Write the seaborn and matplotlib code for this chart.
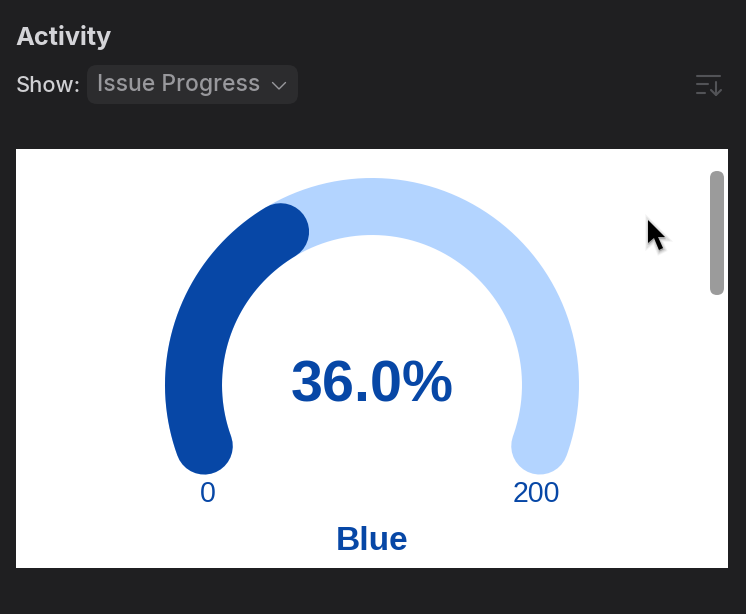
from __future__ import annotations

import matplotlib

matplotlib.use("Agg")
import matplotlib.pyplot as plt
import numpy as np
import seaborn as sns
from matplotlib.patches import FancyBboxPatch, Polygon, Rectangle

GAUGE_MIN = 0
GAUGE_MAX = 200
GAUGE_VALUE = 72
GAUGE_LABEL = "Blue"
PANEL_TITLE = "Activity"
SHOW_LABEL = "Show:"
DROPDOWN_LABEL = "Issue Progress"

DARK_BLUE = "#0747a6"
LIGHT_BLUE = "#b3d4ff"
BACKGROUND = "#1f1f21"

# gauge geometry, in screen pixels
CENTER = (372, 385)
RADIUS = 178.5
STROKE_PX = 57
START_DEG = 200
SWEEP_DEG = 220


def px_to_pt(px: float) -> float:
    return px * 72 / 100


def arc(value_from: float, value_to: float) -> tuple[np.ndarray, np.ndarray]:
    span = GAUGE_MAX - GAUGE_MIN
    a0 = START_DEG - SWEEP_DEG * (value_from - GAUGE_MIN) / span
    a1 = START_DEG - SWEEP_DEG * (value_to - GAUGE_MIN) / span
    theta = np.radians(np.linspace(a0, a1, 200))
    return CENTER[0] + RADIUS * np.cos(theta), CENTER[1] - RADIUS * np.sin(theta)


def draw_arc(ax, value_from: float, value_to: float, color: str) -> None:
    x, y = arc(value_from, value_to)
    sns.lineplot(
        x=x,
        y=y,
        sort=False,
        estimator=None,
        color=color,
        linewidth=px_to_pt(STROKE_PX),
        solid_capstyle="round",
        ax=ax,
    )


def rounded(ax, x: float, y: float, w: float, h: float, r: float, color: str) -> None:
    ax.add_patch(
        FancyBboxPatch(
            (x + r, y + r),
            w - 2 * r,
            h - 2 * r,
            boxstyle=f"round,pad={r},rounding_size={r}",
            facecolor=color,
            edgecolor="none",
        )
    )


def draw_chrome(ax) -> None:
    ax.text(15, 38, PANEL_TITLE, color="#d4d4d8", fontsize=px_to_pt(25.3), fontweight="bold",
            family="Inter", va="center", ha="left")
    ax.text(16, 86, SHOW_LABEL, color="#d0d0d3", fontsize=px_to_pt(21.8), fontweight="medium",
            family="Inter", va="center", ha="left")
    rounded(ax, 87, 65, 211, 39, 10, "#2c2c2e")
    ax.text(97, 85.5, DROPDOWN_LABEL, color="#98989c", fontsize=px_to_pt(22.9), fontweight="medium",
            family="Inter", va="center", ha="left")
    ax.plot([272.5, 279, 285.5], [82.5, 89, 82.5], color="#98989c", lw=1.0)

    # sort icon
    icon = "#525357"
    ax.plot([697, 720], [76, 76], color=icon, lw=1.5)
    ax.plot([697, 708], [84, 84], color=icon, lw=1.5)
    ax.plot([697, 705], [93, 93], color=icon, lw=1.5)
    ax.plot([716, 716], [82, 95], color=icon, lw=1.5)
    ax.plot([711, 716, 721], [90, 95, 90], color=icon, lw=1.5)


def draw_overlay(ax) -> None:
    rounded(ax, 710, 171, 14, 124, 7, "#9b9b9b")
    cursor = np.array([(648, 220), (648, 243), (654, 238), (659, 250), (663, 248), (658, 237), (665, 237)])
    # soft shadow built from a few wide, faint outlines
    for lw, alpha in [(4.5, 0.05), (3, 0.07), (1.5, 0.09)]:
        ax.add_patch(Polygon(cursor + [0.5, 1.5], closed=True, facecolor="#000000", edgecolor="#000000",
                             alpha=alpha, lw=lw, zorder=5))
    ax.add_patch(Polygon(cursor, closed=True, facecolor="#000000", edgecolor="none", zorder=6))


def main() -> None:
    sns.set_theme(style="white")
    fig = plt.figure(figsize=(7.46, 6.14), dpi=100, facecolor=BACKGROUND)
    ax = fig.add_axes([0, 0, 1, 1])
    ax.set_xlim(0, 746)
    ax.set_ylim(614, 0)
    ax.set_facecolor(BACKGROUND)
    ax.axis("off")

    ax.add_patch(Rectangle((16, 149), 712, 419, facecolor="white", edgecolor="none", zorder=0))

    draw_arc(ax, GAUGE_MIN, GAUGE_MAX, LIGHT_BLUE)
    draw_arc(ax, GAUGE_MIN, GAUGE_VALUE, DARK_BLUE)

    pct = 100 * (GAUGE_VALUE - GAUGE_MIN) / (GAUGE_MAX - GAUGE_MIN)
    sans = "Liberation Sans"
    ax.text(372, 386, f"{pct:.1f}%", color=DARK_BLUE, fontsize=px_to_pt(57.5), fontweight="bold",
            family=sans, ha="center", va="center")
    ax.text(208, 493.5, str(GAUGE_MIN), color=DARK_BLUE, fontsize=px_to_pt(28.5),
            family=sans, ha="center", va="center")
    ax.text(536, 493.5, str(GAUGE_MAX), color=DARK_BLUE, fontsize=px_to_pt(28.5),
            family=sans, ha="center", va="center")
    ax.text(372.5, 542, GAUGE_LABEL, color=DARK_BLUE, fontsize=px_to_pt(33.5), fontweight="bold",
            family=sans, ha="center", va="center")

    draw_chrome(ax)
    draw_overlay(ax)

    fig.savefig("out.png", dpi=100, facecolor=BACKGROUND)
    plt.close(fig)


if __name__ == "__main__":
    main()
